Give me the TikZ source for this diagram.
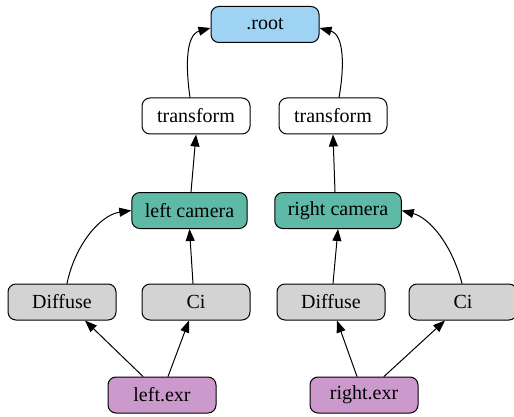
\documentclass[tikz,border=0pt]{standalone}
\usepackage{fontspec}
\setmainfont{Liberation Serif}
\usetikzlibrary{arrows.meta}

\definecolor{rootblue}{RGB}{158,211,244}
\definecolor{camgreen}{RGB}{94,186,166}
\definecolor{leafgray}{RGB}{211,211,211}
\definecolor{exrplum}{RGB}{204,153,204}

\tikzset{
	box/.style={draw, line width=1pt, rounded corners=8pt, minimum width=108pt, minimum height=36pt,
		inner xsep=13pt, font=\fontsize{20}{22}\selectfont},
	edge/.style={-{Triangle[length=12pt,width=9pt]}, line width=1pt}
}

\begin{document}
\begin{tikzpicture}[x=1pt, y=-1pt, line join=round, line cap=round]
	
	% khung bao theo kich thuoc anh
	\useasboundingbox (0,0) rectangle (514,417);
	
	% ==========================================
	% 1. Cac nut
	% ==========================================
	\node[box, fill=rootblue] (root) at (265,24.5) {.root};
	
	\node[box, fill=white] (tleft) at (196,116) {transform};
	\node[box, fill=white] (tright) at (333,116) {transform};
	
	\node[box, fill=camgreen] (camleft) at (189.5,210.5) {left camera};
	\node[box, fill=camgreen] (camright) at (338,210.5) {right camera};
	
	\node[box, fill=leafgray] (difleft) at (62,302) {Diffuse};
	\node[box, fill=leafgray] (cileft) at (196,302) {Ci};
	\node[box, fill=leafgray] (difright) at (331,302) {Diffuse};
	\node[box, fill=leafgray] (ciright) at (463,302) {Ci};
	
	\node[box, fill=exrplum] (exrleft) at (162,395) {left.exr};
	\node[box, fill=exrplum] (exrright) at (364,395) {right.exr};
	
	% ==========================================
	% 2. Cac mui ten (tu con len cha)
	% ==========================================
	% transform -> .root (cong)
	\draw[edge] ([xshift=-6pt]tleft.north) .. controls (186,70) and (185,35) .. ([yshift=-3.5pt]root.west);
	\draw[edge] ([xshift=6pt]tright.north) .. controls (344,70) and (345,35) .. ([yshift=-3.5pt]root.east);
	
	% camera -> transform
	\draw[edge] ([xshift=1.5pt]camleft.north) -- (tleft.south);
	\draw[edge] ([xshift=-3pt]camright.north) -- (tright.south);
	
	% Diffuse, Ci -> camera
	\draw[edge] ([xshift=5pt]difleft.north) .. controls (75,245) and (100,215) .. (camleft.west);
	\draw[edge] ([xshift=-3pt]cileft.north) -- (camleft.south);
	\draw[edge] ([xshift=2pt]difright.north) -- (camright.south);
	\draw[edge] ([xshift=-1pt]ciright.north) .. controls (452,245) and (430,218) .. (camright.east);
	
	% .exr -> Diffuse, Ci
	\draw[edge] ([xshift=-19pt]exrleft.north) -- ([xshift=23pt]difleft.south);
	\draw[edge] ([xshift=6pt]exrleft.north) -- ([xshift=-7pt]cileft.south);
	\draw[edge] ([xshift=-7pt]exrright.north) -- ([xshift=6pt]difright.south);
	\draw[edge] ([xshift=20pt]exrright.north) -- ([xshift=-18pt]ciright.south);
\end{tikzpicture}
\end{document}
